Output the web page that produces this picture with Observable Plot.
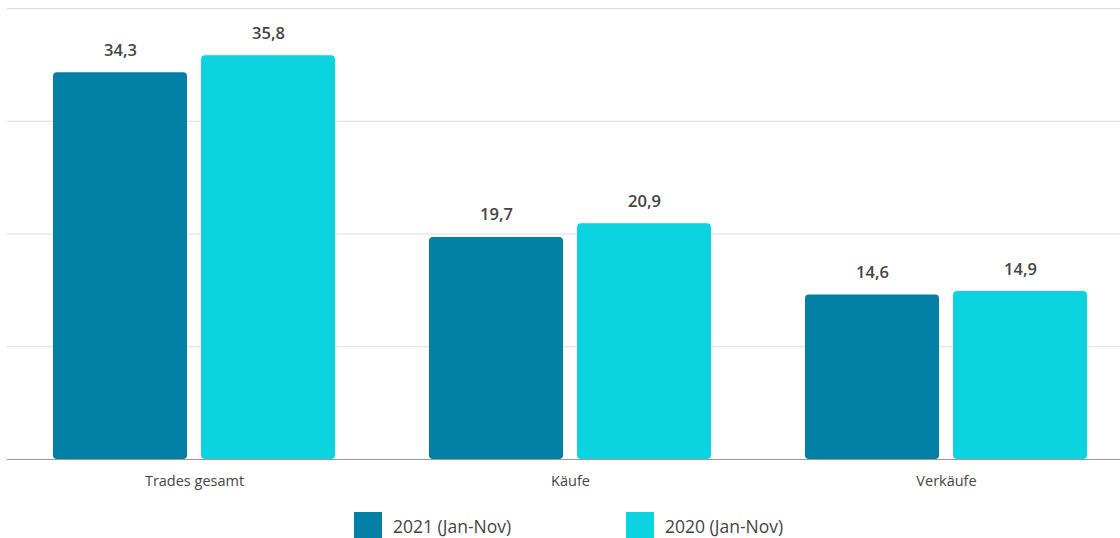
<!DOCTYPE html>
<html>
<head>
<meta charset="utf-8">
<script src="https://cdn.jsdelivr.net/npm/d3@7"></script>
<script src="https://cdn.jsdelivr.net/npm/@observablehq/plot@0.6"></script>
<style>
  html, body { margin: 0; padding: 0; background: #fff; }
  body { width: 1120px; height: 538px; overflow: hidden; font-family: "Open Sans", Lato, sans-serif; }
  #legend { display: flex; justify-content: flex-start; margin-top: 17px; padding-left: 354px; }
  .item { display: flex; align-items: center; width: 272px; }
  .sw { width: 28px; height: 28px; margin-right: 11px; flex: none; }
  .lab { font-size: 17.5px; color: #444; font-family: "Open Sans", sans-serif; }
</style>
</head>
<body>
<div id="chart"></div>
<div id="legend"></div>
<script>
const categories = ["Trades gesamt", "Käufe", "Verkäufe"];
const series = ["2021 (Jan-Nov)", "2020 (Jan-Nov)"];
const values2021 = [34.3, 19.7, 14.6];
const values2020 = [35.8, 20.9, 14.9];
const colors = ["#027fa5", "#0bd3e0"];
const gridTicks = [10, 20, 30, 40];

const rows = [];
categories.forEach((c, i) => {
  rows.push({category: c, series: series[0], value: values2021[i]});
  rows.push({category: c, series: series[1], value: values2020[i]});
});
const d2021 = rows.filter(d => d.series === series[0]);
const d2020 = rows.filter(d => d.series === series[1]);
const fmt = v => d3.format(".1f")(v).replace(".", ",");

const barW = 134, gap = 14;
const half = barW + gap;
const off = (barW + gap) / 2;

const chart = Plot.plot({
  width: 1120,
  height: 495,
  marginTop: 8,
  marginBottom: 36,
  marginLeft: 7,
  marginRight: 0,
  style: {fontFamily: "'Open Sans', Lato, sans-serif", color: "#444", background: "#fff"},
  x: {domain: categories, paddingInner: 0.25, paddingOuter: 0.105, align: 0.582, label: null},
  y: {domain: [0, 40], axis: null},
  color: {domain: series, range: colors},
  marks: [
    Plot.ruleY(gridTicks, {stroke: "#dcdcdc", strokeWidth: 1}),
    Plot.barY(d2021, {x: "category", y: "value", fill: "series", insetRight: half, rx: 4}),
    Plot.barY(d2020, {x: "category", y: "value", fill: "series", insetLeft: half, rx: 4}),
    Plot.ruleY([0], {stroke: "#9a9a9a", strokeWidth: 1.2}),
    Plot.text(d2021, {x: "category", y: "value", text: d => fmt(d.value), dx: -off, dy: -17, lineAnchor: "bottom", fontSize: 16.5, fontWeight: 600, fill: "#444"}),
    Plot.text(d2020, {x: "category", y: "value", text: d => fmt(d.value), dx: off, dy: -17, lineAnchor: "bottom", fontSize: 16.5, fontWeight: 600, fill: "#444"}),
    Plot.axisX({tickSize: 0, tickPadding: 16, fontSize: 14.5, color: "#444", label: null})
  ]
});
document.getElementById("chart").appendChild(chart);

const legend = document.getElementById("legend");
series.forEach((s, i) => {
  const item = document.createElement("div");
  item.className = "item";
  const sw = document.createElement("div");
  sw.className = "sw";
  sw.style.background = colors[i];
  const lab = document.createElement("span");
  lab.className = "lab";
  lab.textContent = s;
  item.appendChild(sw);
  item.appendChild(lab);
  legend.appendChild(item);
});
</script>
</body>
</html>
